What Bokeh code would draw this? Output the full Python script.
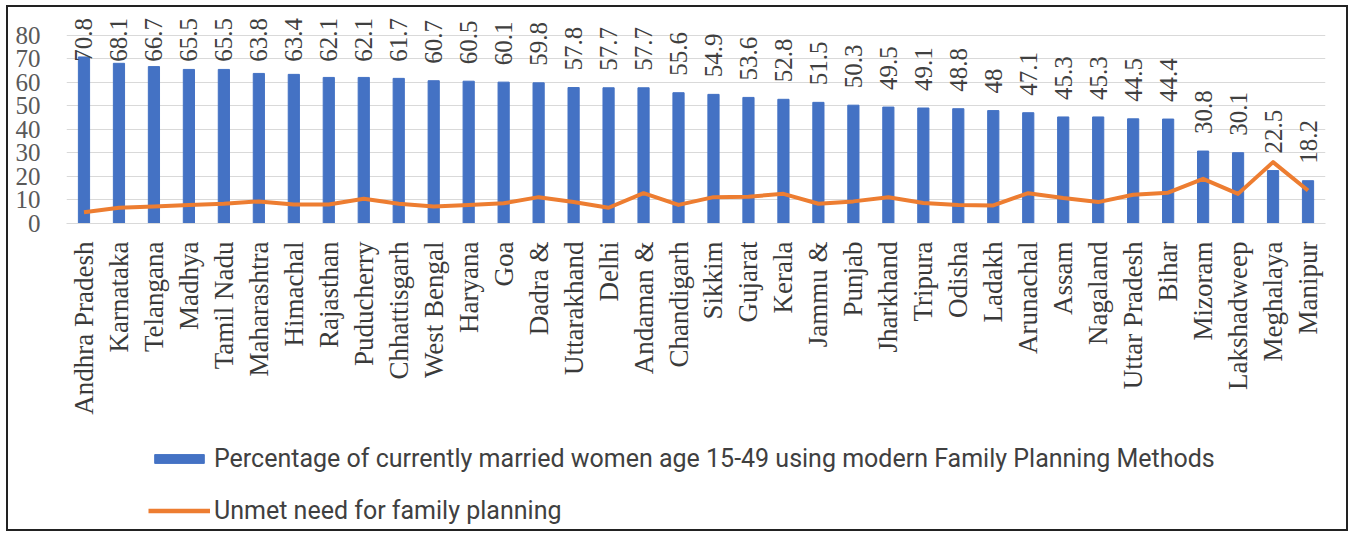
import numpy as np
from bokeh.plotting import figure
from bokeh.layouts import column
from bokeh.models import ColumnDataSource, FixedTicker, Legend, LegendItem, Range1d, FactorRange
from bokeh.core.properties import value
from bokeh.embed import file_html
from bokeh.resources import INLINE

states = ["Andhra Pradesh", "Karnataka", "Telangana", "Madhya", "Tamil Nadu", "Maharashtra",
          "Himachal", "Rajasthan", "Puducherry", "Chhattisgarh", "West Bengal", "Haryana",
          "Goa", "Dadra &", "Uttarakhand", "Delhi", "Andaman &", "Chandigarh", "Sikkim",
          "Gujarat", "Kerala", "Jammu &", "Punjab", "Jharkhand", "Tripura", "Odisha",
          "Ladakh", "Arunachal", "Assam", "Nagaland", "Uttar Pradesh", "Bihar", "Mizoram",
          "Lakshadweep", "Meghalaya", "Manipur"]
modern_fp = [70.8, 68.1, 66.7, 65.5, 65.5, 63.8, 63.4, 62.1, 62.1, 61.7, 60.7, 60.5,
             60.1, 59.8, 57.8, 57.7, 57.7, 55.6, 54.9, 53.6, 52.8, 51.5, 50.3, 49.5,
             49.1, 48.8, 48, 47.1, 45.3, 45.3, 44.5, 44.4, 30.8, 30.1, 22.5, 18.2]
unmet_need = [4.8, 6.7, 7.2, 7.9, 8.4, 9.4, 8.1, 8.1, 10.5, 8.4, 7.2, 7.9,
              8.6, 11.2, 9.1, 6.7, 12.9, 7.9, 11.2, 11.4, 12.6, 8.4, 9.4, 11.2,
              8.7, 7.9, 7.7, 12.9, 10.8, 9.1, 12.2, 13.1, 19.0, 12.6, 26.1, 14.0]
y_ticks = [0, 10, 20, 30, 40, 50, 60, 70, 80]
series_names = ["Percentage of currently married women age 15-49 using modern Family Planning Methods",
                "Unmet need for family planning"]

BAR_COLOR = "#4472C4"
LINE_COLOR = "#ED7D31"

labels_txt = [("%g" % v) for v in modern_fp]
label_base = list(np.minimum(np.array(modern_fp), 61.5))

src = ColumnDataSource(dict(state=states, fp=modern_fp, un=unmet_need,
                            lab=labels_txt, lab_y=label_base))

p = figure(x_range=FactorRange(*states, range_padding=0), y_range=Range1d(0, 88),
           width=1338, height=410, output_backend="svg", toolbar_location=None,
           min_border_left=58, min_border_right=21, min_border_top=9, min_border_bottom=194)
p.outline_line_color = None
p.background_fill_color = "white"
p.border_fill_color = "white"

p.vbar(x="state", top="fp", width=0.32, source=src, color=BAR_COLOR)
p.line(x="state", y="un", source=src, line_color=LINE_COLOR, line_width=4, line_join="round")

p.text(x="state", y="lab_y", text="lab", source=src, angle=np.pi / 2, text_align="left",
       text_baseline="middle", y_offset=-17, text_font=value("Liberation Serif"),
       text_font_size="25px", text_color="#404040")

p.yaxis.ticker = FixedTicker(ticks=y_ticks)
p.ygrid.ticker = FixedTicker(ticks=y_ticks)
p.ygrid.grid_line_color = "#d9d9d9"
p.xgrid.grid_line_color = None
p.yaxis.axis_line_color = None
p.yaxis.major_tick_line_color = None
p.yaxis.minor_tick_line_color = None
p.yaxis.major_label_text_font = "Liberation Serif"
p.yaxis.major_label_text_font_size = "25px"
p.yaxis.major_label_text_color = "#595959"
p.yaxis.major_label_standoff = 20

p.xaxis.axis_line_color = "#d9d9d9"
p.xaxis.major_tick_line_color = None
p.xaxis.minor_tick_line_color = None
p.xaxis.major_label_orientation = np.pi / 2
p.xaxis.major_label_text_font = "Liberation Serif"
p.xaxis.major_label_text_font_size = "27px"
p.xaxis.major_label_text_color = "#3a3a3a"
p.xaxis.major_label_standoff = 12

# legend panel below the chart (swatch renderers hold no drawable data)
lg = figure(width=1338, height=112, output_backend="svg", toolbar_location=None,
            x_range=Range1d(0, 1), y_range=Range1d(0, 1),
            min_border_left=0, min_border_right=0, min_border_top=0, min_border_bottom=0)
lg.axis.visible = False
lg.grid.visible = False
lg.outline_line_color = None
lg_src = ColumnDataSource(dict(x=[np.nan], y=[np.nan]))
lg_bar = lg.vbar(x="x", top="y", width=0.3, color=BAR_COLOR, source=lg_src)
lg_line = lg.line(x="x", y="y", line_color=LINE_COLOR, line_width=4.5, source=lg_src)

legend = Legend(items=[
    LegendItem(label=series_names[0], renderers=[lg_bar]),
    LegendItem(label=series_names[1], renderers=[lg_line]),
], location=(82, 4), orientation="vertical")
legend.glyph_width = 62
legend.glyph_height = 11
legend.label_height = 30
legend.label_standoff = 4
legend.spacing = 22
legend.padding = 0
legend.margin = 0
legend.border_line_color = None
legend.background_fill_alpha = 0
legend.label_text_font = "Roboto"
legend.label_text_font_size = "25px"
legend.label_text_color = "#404040"
lg.add_layout(legend, "center")

layout = column(p, lg, spacing=0, margin=(5, 0, 0, 6), styles={"border": "2px solid #222"})

open("out.html", "w").write(file_html(layout, INLINE))
